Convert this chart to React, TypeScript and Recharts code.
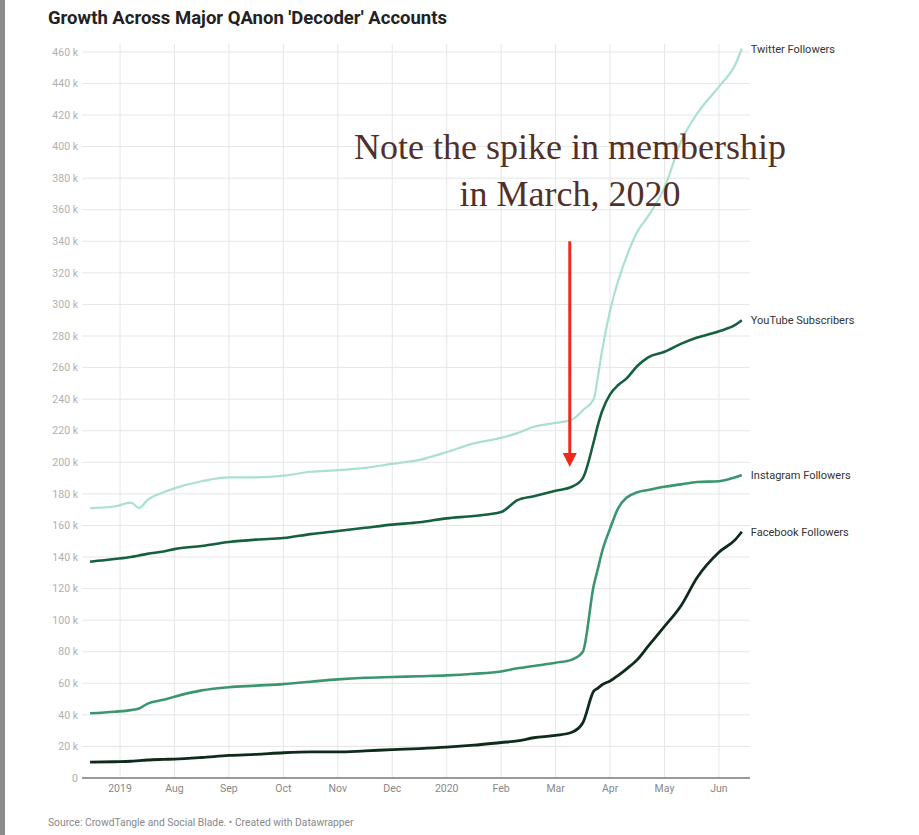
import { LineChart, Line, XAxis, YAxis, CartesianGrid, ReferenceLine, LabelList } from "recharts"

// months since 1 Jul 2019
const monthTicks = [0, 1, 2, 3, 4, 5, 6, 7, 8, 9, 10, 11]
const monthLabels = ["2019", "Aug", "Sep", "Oct", "Nov", "Dec", "2020", "Feb", "Mar", "Apr", "May", "Jun"]
const yTicks = [0, 20, 40, 60, 80, 100, 120, 140, 160, 180, 200, 220, 240, 260, 280, 300, 320, 340, 360, 380, 400, 420, 440, 460].map((v) => v * 1000)

const t = [-0.55, -0.1, 0.2, 0.35, 0.5, 0.8, 1, 1.5, 2, 2.5, 3, 3.5, 4, 4.5, 5, 5.5, 6, 6.5, 7, 7.3, 7.6, 8, 8.3, 8.5, 8.7, 8.78, 8.85, 9, 9.15, 9.3, 9.5, 9.7, 10, 10.3, 10.6, 11, 11.3, 11.42]

// thousands
const twitter = [171, 172, 174.5, 171, 176, 181, 183.5, 188, 190.5, 190.5, 191.5, 194, 195, 196.5, 199, 201.5, 206.5, 212, 215.5, 218.5, 222.5, 225, 227, 233, 240, 255, 270, 296, 315, 330, 346, 356, 374, 403, 421, 438, 452, 462]
const youtube = [137, 138.7, 140, 141, 142, 143.5, 145, 147, 149.5, 151, 152, 154.5, 156.5, 158.5, 160.5, 162, 164.5, 166, 168.5, 176, 178.5, 182, 184.5, 190, 213, 224, 232, 243, 249, 253, 261, 266.5, 270, 275, 279, 283, 287, 290]
const instagram = [41, 42, 43, 44, 47, 49.5, 51.5, 55.5, 57.5, 58.5, 59.5, 61, 62.5, 63.5, 64, 64.5, 65, 66, 67.5, 69.5, 71, 73, 75, 80, 122, 133, 143, 158, 171, 177.5, 181, 182.5, 184.5, 186, 187.5, 188, 190.5, 192]
const facebook = [10, 10.3, 10.6, 11, 11.4, 11.8, 12, 13, 14.3, 15, 16, 16.5, 16.5, 17.2, 18, 18.6, 19.5, 20.8, 22.5, 23.5, 25.5, 27, 29, 35, 55, 57, 59, 61.5, 65, 69, 75, 83.5, 96, 109, 127, 143, 151, 156]

const series = [
  { key: "twitter", name: "Twitter Followers", color: "#a9e1cb", width: 2.2 },
  { key: "youtube", name: "YouTube Subscribers", color: "#15603e", width: 2.6 },
  { key: "instagram", name: "Instagram Followers", color: "#3b9670", width: 2.6 },
  { key: "facebook", name: "Facebook Followers", color: "#0f2b1b", width: 2.8 },
]

const data = t.map((m, i) => ({
  t: m,
  twitter: twitter[i] * 1000,
  youtube: youtube[i] * 1000,
  instagram: instagram[i] * 1000,
  facebook: facebook[i] * 1000,
}))

const font = "Roboto, 'Noto Sans', sans-serif"

const endLabel = (name: string) => (props: any) => {
  const { x, y, index } = props
  if (index !== data.length - 1) return null
  return (
    <text x={x + 9} y={y + 1} dominantBaseline="middle" fontSize={11} fill="#333" fontFamily={font}>
      {name}
    </text>
  )
}

const Arrow = (props: any) => {
  const { x1, y1, x2, y2 } = props
  return (
    <g>
      <line x1={x1} y1={y1} x2={x2} y2={y2 - 12} stroke="#f2291a" strokeWidth={3} />
      <polygon points={`${x2 - 7},${y2 - 14} ${x2 + 7},${y2 - 14} ${x2},${y2}`} fill="#f2291a" />
    </g>
  )
}

export default function App() {
  return (
    <div style={{ position: "absolute", left: 0, top: 0, width: 919, height: 835, background: "#fff", overflow: "hidden" }}>
      <div style={{ position: "absolute", left: 0, top: 0, width: 5, height: 835, background: "#8c8c8c" }} />
      <div style={{ position: "absolute", left: 48, top: 7, fontFamily: font, fontWeight: 700, fontSize: 18.5, color: "#222", whiteSpace: "nowrap" }}>
        Growth Across Major QAnon 'Decoder' Accounts
      </div>

      <div style={{ position: "absolute", left: 0, top: 0 }}>
        <LineChart width={919} height={835} data={data} margin={{ top: 44, right: 169, bottom: 27, left: 0 }}>
          <CartesianGrid stroke="#e6e6e6" strokeWidth={1} verticalValues={monthTicks} horizontalValues={yTicks} />
          <XAxis
            dataKey="t"
            type="number"
            domain={[-0.698, 11.57]}
            ticks={monthTicks}
            tickFormatter={(v: number) => monthLabels[v] ?? ""}
            axisLine={false}
            tickLine={false}
            tickSize={6}
            tickMargin={1}
            height={30}
            interval={0}
            tick={{ fill: "#888", fontSize: 10.5, fontFamily: font }}
          />
          <YAxis
            type="number"
            domain={[0, 465000]}
            ticks={yTicks}
            tickFormatter={(v: number) => (v === 0 ? "0" : `${v / 1000} k`)}
            axisLine={false}
            tickLine={false}
            tickSize={4}
            tickMargin={0}
            width={82}
            interval={0}
            tick={{ fill: "#b0b0b0", fontSize: 10.5, fontFamily: font }}
          />
          <ReferenceLine y={0} stroke="#9a9a9a" strokeWidth={2} />
          {series.map((s) => (
            <Line
              key={s.key}
              type="monotone"
              dataKey={s.key}
              stroke={s.color}
              strokeWidth={s.width}
              dot={false}
              isAnimationActive={false}
            >
              <LabelList dataKey={s.key} content={endLabel(s.name)} />
            </Line>
          ))}
          <ReferenceLine
            segment={[
              { x: 8.26, y: 340000 },
              { x: 8.26, y: 197000 },
            ]}
            shape={Arrow}
          />
        </LineChart>
      </div>

      <div
        style={{
          position: "absolute",
          left: 320,
          width: 500,
          top: 124,
          textAlign: "center",
          fontFamily: "'Liberation Serif', serif",
          fontSize: 36,
          lineHeight: "47px",
          color: "#52302a",
        }}
      >
        Note the spike in membership
        <br />
        in March, 2020
      </div>

      <div style={{ position: "absolute", left: 48, top: 816, fontFamily: font, fontSize: 10.3, color: "#888", whiteSpace: "nowrap" }}>
        Source: CrowdTangle and Social Blade. • Created with Datawrapper
      </div>
    </div>
  )
}
